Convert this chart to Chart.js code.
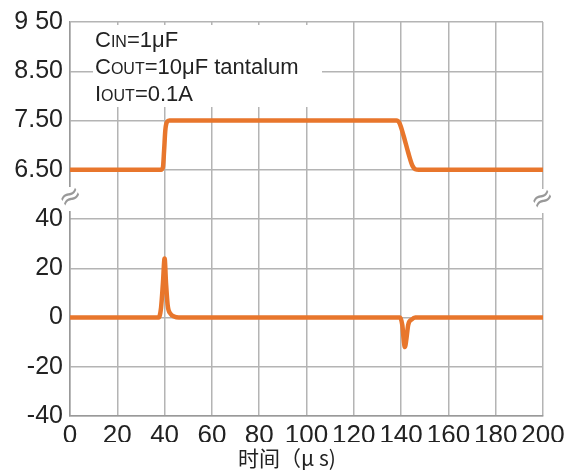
<!DOCTYPE html>
<html>
<head>
<meta charset="utf-8">
<script src="https://cdn.jsdelivr.net/npm/chart.js"></script>
<style>
  body { margin: 0; background: #fff; }
</style>
</head>
<body>
<canvas id="myChart" width="577" height="472"></canvas>
<script>
// output voltage trace (top panel)
const timeV = [0, 38.5, 39.3, 39.8, 40.3, 41, 42, 138, 139.3, 141, 143, 144.8, 146, 147.5, 200];
const voltage = [6.5, 6.5, 6.55, 6.9, 7.3, 7.47, 7.5, 7.5, 7.45, 7.2, 6.85, 6.58, 6.51, 6.5, 6.5];

// output current trace (bottom panel)
const timeI = [0, 37.5, 38.5, 39.3, 40, 40.6, 41.3, 42.5, 44, 46, 139.5, 140.5, 141.2, 141.6, 142.2, 143, 144.5, 146, 200];
const current = [0, 0, 4, 14, 24, 14, 5, 1.5, 0.4, 0, 0, -3, -10, -12, -9, -3, -0.8, 0, 0];

const xTicks = [0, 20, 40, 60, 80, 100, 120, 140, 160, 180, 200];
const vTicks = [6.5, 7.5, 8.5, 9.5];
const iTicks = [-40, -20, 0, 20, 40];

const notes = [
  ['C', 'IN', '=1\u03bcF'],
  ['C', 'OUT', '=10\u03bcF tantalum'],
  ['I', 'OUT', '=0.1A']
];
const xTitle = '\u65f6\u95f4\uff08\u03bc s)';

const lineColor = '#e8762c';
const gridColor = '#b4b4b4';
const textColor = '#222';

function toPoints(xs, ys) {
  return xs.map((x, i) => ({x: x, y: ys[i]}));
}

const decorPlugin = {
  id: 'decor',
  beforeDatasetsDraw(chart) {
    const ctx = chart.ctx;
    ctx.save();
    ctx.fillStyle = '#fff';
    ctx.fillRect(93, 25, 229, 82);
    ctx.fillStyle = textColor;
    ctx.textBaseline = 'alphabetic';
    notes.forEach((n, i) => {
      let x = 95;
      const y = 47 + i * 27;
      ctx.font = '22px "Liberation Sans", Arial, sans-serif';
      ctx.fillText(n[0], x, y);
      x += ctx.measureText(n[0]).width;
      ctx.font = '16px "Liberation Sans", Arial, sans-serif';
      ctx.fillText(n[1], x, y);
      x += ctx.measureText(n[1]).width;
      ctx.font = '22px "Liberation Sans", Arial, sans-serif';
      ctx.fillText(n[2], x, y);
    });
    ctx.restore();
  },
  afterDraw(chart) {
    const ctx = chart.ctx;
    const area = chart.chartArea;
    ctx.save();
    // axis break marks
    ctx.fillStyle = '#fff';
    ctx.fillRect(area.left - 4, 187, 8, 24);
    ctx.fillRect(area.right - 4, 189, 8, 24);
    ctx.fillStyle = '#999';
    ctx.font = '28px "DejaVu Sans", sans-serif';
    ctx.textAlign = 'center';
    ctx.textBaseline = 'middle';
    [[area.left + 1, 198], [area.right, 200]].forEach(p => {
      ctx.save();
      ctx.translate(p[0], p[1]);
      ctx.rotate(-0.55);
      ctx.fillText('\u2248', 0, 0);
      ctx.restore();
    });
    // tick labels are cut off just above the title in the original
    ctx.fillStyle = '#fff';
    ctx.fillRect(0, 442, chart.width, 5);
    // x axis title
    ctx.fillStyle = textColor;
    ctx.textAlign = 'left';
    ctx.textBaseline = 'alphabetic';
    ctx.font = '21px "Noto Sans CJK SC", sans-serif';
    ctx.fillText(xTitle, 238, 466);
    ctx.restore();
  }
};

const chartLayout = document.getElementById('myChart');

const myChart = new Chart(chartLayout, {
  type: 'line',
  data: {
    datasets: [{
      label: 'Current',
      data: toPoints(timeI, current),
      yAxisID: 'yI',
      borderColor: lineColor,
      borderWidth: 4.5,
      pointRadius: 0,
      cubicInterpolationMode: 'monotone'
    },
    {
      label: 'Voltage',
      data: toPoints(timeV, voltage),
      yAxisID: 'yV',
      borderColor: lineColor,
      borderWidth: 4.5,
      pointRadius: 0,
      cubicInterpolationMode: 'monotone'
    }]
  },
  options: {
    responsive: false,
    animation: false,
    layout: {
      padding: {top: 20, right: 34, left: 0, bottom: 0}
    },
    plugins: {
      legend: {display: false},
      tooltip: {enabled: false}
    },
    scales: {
      x: {
        type: 'linear',
        min: 0,
        max: 200,
        afterBuildTicks: axis => { axis.ticks = xTicks.map(v => ({value: v})); },
        afterFit: axis => { axis.height = 56; },
        grid: {color: gridColor, lineWidth: 1.5, drawTicks: false},
        border: {color: '#999', width: 1.5},
        ticks: {
          autoSkip: false,
          maxRotation: 0,
          padding: 4,
          color: textColor,
          font: {family: '"Liberation Sans", Arial, sans-serif', size: 26}
        }
      },
      yI: {
        type: 'linear',
        position: 'left',
        stack: 'panels',
        stackWeight: 4,
        min: -40,
        max: 40,
        afterBuildTicks: axis => { axis.ticks = iTicks.map(v => ({value: v})); },
        afterFit: axis => { axis.width = 70; },
        grid: {color: gridColor, lineWidth: 1.5, drawTicks: false},
        border: {color: '#999', width: 1.5},
        ticks: {
          autoSkip: false,
          padding: 7,
          color: textColor,
          font: {family: '"Liberation Sans", Arial, sans-serif', size: 25}
        }
      },
      yV: {
        type: 'linear',
        position: 'left',
        stack: 'panels',
        stackWeight: 4,
        min: 5.5,
        max: 9.5,
        afterBuildTicks: axis => { axis.ticks = vTicks.map(v => ({value: v})); },
        afterFit: axis => { axis.width = 70; },
        grid: {color: gridColor, lineWidth: 1.5, drawTicks: false},
        border: {color: '#999', width: 1.5},
        ticks: {
          autoSkip: false,
          padding: 7,
          color: textColor,
          font: {family: '"Liberation Sans", Arial, sans-serif', size: 25},
          callback: v => v === 9.5 ? '9 50' : v.toFixed(2)
        }
      }
    }
  },
  plugins: [decorPlugin]
});
</script>
</body>
</html>
